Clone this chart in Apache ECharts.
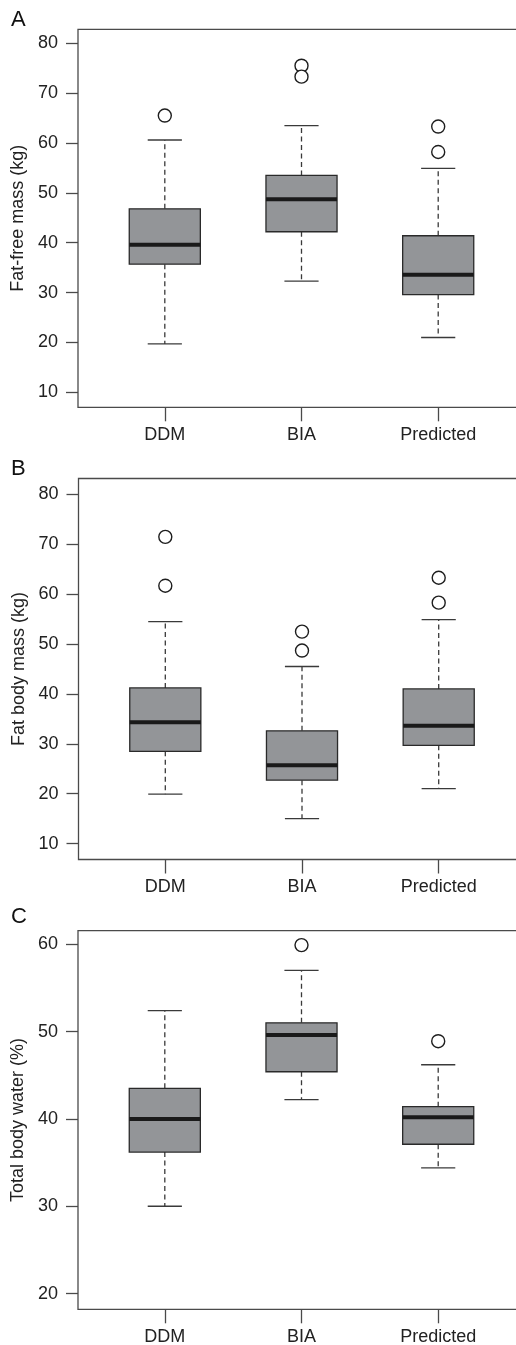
<!DOCTYPE html>
<html><head><meta charset="utf-8">
<script src="https://cdn.jsdelivr.net/npm/echarts@6/dist/echarts.min.js"></script>
<style>html,body{margin:0;padding:0;background:#fff}#c{width:516px;height:1345px}</style>
</head><body><div id="c"></div>
<script>
// ---- data ----
const categories = ['DDM', 'BIA', 'Predicted'];
const panelLetters = ['A', 'B', 'C'];
const yTitles = ['Fat-free mass (kg)', 'Fat body mass (kg)', 'Total body water (%)'];
// [lower whisker, Q1, median, Q3, upper whisker]
const fatFreeStats = [[19.7, 35.7, 39.6, 46.8, 60.6], [32.3, 42.2, 48.7, 53.5, 63.5], [21.0, 29.6, 33.6, 41.4, 54.9]];
const fatFreeOutliers = [[65.5], [75.5, 73.3], [63.3, 58.2]];
const fatBodyStats = [[19.9, 28.5, 34.3, 41.2, 54.5], [15.0, 22.7, 25.7, 32.6, 45.5], [21.0, 29.7, 33.6, 41.0, 54.9]];
const fatBodyOutliers = [[71.5, 61.7], [52.5, 48.7], [63.3, 58.3]];
const waterStats = [[30.0, 36.2, 40.0, 43.5, 52.4], [42.2, 45.4, 49.6, 51.0, 57.0], [34.4, 37.1, 40.2, 41.4, 46.2]];
const waterOutliers = [[], [59.9], [48.9]];
const yTicksMass = [10, 20, 30, 40, 50, 60, 70, 80];
const yTicksWater = [20, 30, 40, 50, 60];
const xPositions = [1, 2, 3];

// ---- layout / style ----
const panels = [
  { stats: fatFreeStats, outliers: fatFreeOutliers, ticks: yTicksMass, ymin: 7.0, ymax: 82.8, top: 29.3, height: 378, left: 78 },
  { stats: fatBodyStats, outliers: fatBodyOutliers, ticks: yTicksMass, ymin: 6.8, ymax: 83.2, top: 478.5, height: 381, left: 78.5 },
  { stats: waterStats, outliers: waterOutliers, ticks: yTicksWater, ymin: 18.2, ymax: 61.55, top: 930.7, height: 378.6, left: 78 }
];
const letterTops = [9, 458, 906];
const FONT = 'Liberation Sans, Arial, Helvetica, sans-serif';
const AXIS_COLOR = '#4a4a4a';
const BOX_W = 0.52, CAP_W = 0.25;
const XMIN = 0.365, XMAX = 3.635;

function renderBox(params, api) {
  const x = api.value(0);
  const pLo = api.coord([x, api.value(1)]);
  const pQ1 = api.coord([x, api.value(2)]);
  const pMed = api.coord([x, api.value(3)]);
  const pQ3 = api.coord([x, api.value(4)]);
  const pHi = api.coord([x, api.value(5)]);
  const bw = api.size([BOX_W, 0])[0];
  const cw = api.size([CAP_W, 0])[0];
  const cx = pMed[0];
  const dash = { stroke: '#3a3a3a', lineWidth: 1.3, lineDash: [5, 3.5] };
  const solid = { stroke: '#3a3a3a', lineWidth: 1.3 };
  return {
    type: 'group',
    children: [
      { type: 'line', shape: { x1: cx, y1: pQ3[1], x2: cx, y2: pHi[1] }, style: dash },
      { type: 'line', shape: { x1: cx, y1: pQ1[1], x2: cx, y2: pLo[1] }, style: dash },
      { type: 'line', shape: { x1: cx - cw / 2, y1: pHi[1], x2: cx + cw / 2, y2: pHi[1] }, style: solid },
      { type: 'line', shape: { x1: cx - cw / 2, y1: pLo[1], x2: cx + cw / 2, y2: pLo[1] }, style: solid },
      { type: 'rect', shape: { x: cx - bw / 2, y: pQ3[1], width: bw, height: pQ1[1] - pQ3[1] },
        style: { fill: '#939598', stroke: '#2a2a2a', lineWidth: 1.3 } },
      { type: 'line', shape: { x1: cx - bw / 2, y1: pMed[1], x2: cx + bw / 2, y2: pMed[1] },
        style: { stroke: '#1a1a1a', lineWidth: 4 } }
    ]
  };
}

const grids = [], xAxes = [], yAxes = [], series = [], titles = [];
panels.forEach((p, k) => {
  grids.push({ left: p.left, top: p.top, width: (XMAX - XMIN) * 136.7, height: p.height,
    outerBoundsMode: 'none', containLabel: false,
    show: true, borderColor: AXIS_COLOR, borderWidth: 1.3, backgroundColor: 'transparent' });
  xAxes.push({
    type: 'value', gridIndex: k, min: XMIN, max: XMAX,
    axisLine: { show: false }, splitLine: { show: false },
    axisTick: { show: true, customValues: xPositions, length: 14, lineStyle: { color: AXIS_COLOR, width: 1.3 } },
    axisLabel: { customValues: xPositions, margin: 19, color: '#222', fontFamily: FONT, fontSize: 18,
      formatter: v => categories[Math.round(v) - 1] || '' }
  });
  yAxes.push({
    type: 'value', gridIndex: k, min: p.ymin, max: p.ymax,
    name: yTitles[k], nameLocation: 'middle', nameGap: 50, nameRotate: 90,
    nameTextStyle: { color: '#222', fontFamily: FONT, fontSize: 18 },
    axisLine: { show: false }, splitLine: { show: false },
    axisTick: { show: true, customValues: p.ticks, length: 12, lineStyle: { color: AXIS_COLOR, width: 1.3 } },
    axisLabel: { customValues: p.ticks, margin: 20, color: '#222', fontFamily: FONT, fontSize: 18 }
  });
  series.push({
    type: 'custom', xAxisIndex: k, yAxisIndex: k, renderItem: renderBox, clip: false,
    encode: { x: 0, y: [1, 2, 3, 4, 5] },
    data: p.stats.map((s, i) => [xPositions[i]].concat(s))
  });
  const pts = [];
  p.outliers.forEach((arr, i) => arr.forEach(v => pts.push([xPositions[i], v])));
  series.push({
    type: 'scatter', xAxisIndex: k, yAxisIndex: k, symbol: 'circle', symbolSize: 13,
    itemStyle: { color: '#fff', borderColor: '#1e1e1e', borderWidth: 1.4, opacity: 1 },
    data: pts, z: 5
  });
  titles.push({ text: panelLetters[k], left: 11, top: letterTops[k], padding: 0,
    textStyle: { fontFamily: FONT, fontSize: 22, fontWeight: 'normal', color: '#111' } });
});

const chart = echarts.init(document.getElementById('c'), null, { renderer: 'canvas', width: 516, height: 1345 });
chart.setOption({
  animation: false,
  backgroundColor: '#fff',
  title: titles,
  grid: grids,
  xAxis: xAxes,
  yAxis: yAxes,
  series: series
});
</script>
</body></html>
